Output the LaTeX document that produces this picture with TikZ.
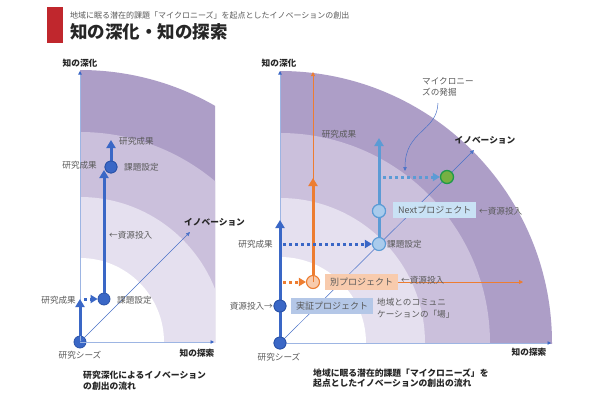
\documentclass[tikz,border=0pt]{standalone}
\usepackage{fontspec}
\setmainfont{Noto Sans CJK JP}
\usetikzlibrary{arrows.meta}
\definecolor{ringA}{HTML}{AD9EC7}
\definecolor{ringB}{HTML}{CBC0DC}
\definecolor{ringC}{HTML}{E5E0EF}
\definecolor{bdark}{HTML}{3A67C6}
\definecolor{bdarkline}{HTML}{2A52A8}
\definecolor{lbline}{HTML}{5B9BD5}
\definecolor{lbfill}{HTML}{A9CBEC}
\definecolor{orng}{HTML}{ED7D31}
\definecolor{ofill}{HTML}{F8CBAD}
\definecolor{nextfill}{HTML}{C9E2F5}
\definecolor{jfill}{HTML}{B4C7E7}
\definecolor{gfill}{HTML}{76B043}
\definecolor{gline}{HTML}{1E9A4A}
\definecolor{txtgray}{HTML}{595959}
\definecolor{txtdark}{HTML}{262626}
\definecolor{axisb}{HTML}{9DB5E3}
\definecolor{diagb}{HTML}{4A72C8}
\definecolor{titlered}{HTML}{C0272D}
\begin{document}
\begin{tikzpicture}[x=1pt,y=-1pt,
  font=\fontsize{8.6}{10}\selectfont,
  lbl/.style={inner sep=0pt, text=txtgray},
  dlbl/.style={inner sep=0pt, text=txtdark, font=\fontsize{8.7}{10}\selectfont\bfseries},
  dcirc/.style={circle, fill=bdark, draw=bdarkline, line width=0.8pt, minimum size=12pt, inner sep=0pt},
  lcirc/.style={circle, fill=lbfill, draw=lbline, line width=1.1pt, minimum size=13pt, inner sep=0pt},
  ocirc/.style={circle, fill=ofill, draw=orng, line width=1.1pt, minimum size=13pt, inner sep=0pt},
  gcirc/.style={circle, fill=gfill, draw=gline, line width=1.3pt, minimum size=13pt, inner sep=0pt},
  thickb/.style={line width=3pt, draw=bdark, -{Triangle[length=8pt,width=9pt]}},
  thickl/.style={line width=3pt, draw=lbline, -{Triangle[length=8pt,width=9pt]}},
  thicko/.style={line width=3pt, draw=orng, -{Triangle[length=8pt,width=9pt]}},
  thino/.style={line width=0.8pt, draw=orng, -{Triangle[length=4pt,width=4pt]}},
  dotb/.style={line width=3pt, draw=bdark, dash pattern=on 3pt off 3pt, -{Triangle[length=7pt,width=8pt]}},
  dotl/.style={line width=3pt, draw=lbline, dash pattern=on 3pt off 3pt, -{Triangle[length=7pt,width=8pt]}},
  doto/.style={line width=3pt, draw=orng, dash pattern=on 3pt off 3pt, -{Triangle[length=7pt,width=8pt]}},
  axisln/.style={draw=axisb, line width=0.8pt, -{Triangle[length=3.5pt,width=3.5pt,color=bdark]}},
  diag/.style={draw=diagb, line width=0.5pt, -{Triangle[length=4pt,width=3.5pt]}},
  callout/.style={draw=diagb, line width=0.5pt, -{Triangle[length=4pt,width=3.5pt]}},
  boxn/.style={inner xsep=5pt, minimum height=16pt, text=txtgray, font=\fontsize{9}{10}\selectfont}
]
\useasboundingbox (0,0) rectangle (600,400);
\fill[white] (0,0) rectangle (600,400);

% ---------- title ----------
\fill[titlered] (47,7) rectangle (63,43);
\node[anchor=west, inner sep=0pt, text=txtgray, font=\fontsize{8}{9}\selectfont] (sub) at (70,15)
  {地域に眠る潜在的課題「マイクロニーズ」を起点としたイノベーションの創出};
\node[anchor=west, inner sep=0pt, text=txtdark, font=\fontsize{17.5}{19}\selectfont\bfseries] (ttl) at (70,32)
  {知の深化・知の探索};

% ---------- left rings ----------
\begin{scope}
\clip (80,0) rectangle (215,342);
\fill[ringA] (80,342) circle[radius=272pt];
\fill[ringB] (80,342) circle[radius=210pt];
\fill[ringC] (80,342) circle[radius=145pt];
\fill[white] (80,342) circle[radius=84pt];
\end{scope}

% ---------- right rings ----------
\begin{scope}
\clip (280,0) rectangle (600,343);
\fill[ringA] (280,343) circle[radius=272pt];
\fill[ringB] (280,343) circle[radius=210pt];
\fill[ringC] (280,343) circle[radius=145pt];
\fill[white] (280,343) circle[radius=86pt];
\end{scope}

% ---------- left diagram ----------
\coordinate (lyTop) at (80,71);
\coordinate (lxEnd) at (214,342);
\coordinate (ldEnd) at (190,232);
\coordinate (lt1) at (80,299);
\coordinate (ld1) at (84,299);
\coordinate (lt2) at (104,170);
\coordinate (lt3) at (111,140);
\node[dcirc] (o1) at (80,342) {};
\draw[axisln] (o1.center) -- (lyTop);
\draw[axisln] (o1.center) -- (lxEnd);
\draw[diag] (o1.center) -- (ldEnd);
\node[dcirc] (c1) at (104,299) {};
\node[dcirc] (c2) at (111,167) {};
\draw[thickb] (o1) -- (lt1);
\draw[dotb] (ld1) -- (c1);
\draw[thickb] (c1) -- (lt2);
\draw[thickb] (c2) -- (lt3);
\node[dcirc] at (111,167) {};

\node[dlbl] (lAx1) at (80,63) {知の深化};
\node[dlbl] (lAx2) at (197,353) {知の探索};
\node[lbl] (lSeeds) at (80,355) {研究シーズ};
\node[lbl, anchor=east] (lR1) at (76,300) {研究成果};
\node[lbl, anchor=west] (lK1) at (117,300) {課題設定};
\node[lbl, anchor=west] (lS1) at (109,235) {←資源投入};
\node[lbl, anchor=east] (lR2) at (97,165) {研究成果};
\node[lbl, anchor=west] (lK2) at (124,167) {課題設定};
\node[lbl, anchor=west] (lR3) at (119,141) {研究成果};
\node[dlbl, anchor=west] (lInno) at (184,222) {イノベーション};
\node[dlbl, anchor=north west, align=left, font=\fontsize{8.8}{10.5}\selectfont\bfseries] (lCap) at (83,371)
  {研究深化によるイノベーション\\の創出の流れ};

% ---------- right diagram ----------
\coordinate (ryTop) at (280,71);
\coordinate (rxEnd) at (551,343);
\coordinate (rdEnd) at (474,150);
\coordinate (rt1) at (280,220);
\coordinate (rd1) at (283,244);
\coordinate (rt2) at (379,138);
\coordinate (rd2) at (383,177);
\coordinate (rd3) at (283,282);
\coordinate (rt3) at (313,178);
\coordinate (rt4) at (313,72);
\coordinate (rt5) at (523,282);
\coordinate (cS) at (438,103);
\coordinate (cE) at (405,171);

\node[dcirc] (o2) at (280,343) {};
\draw[axisln] (o2.center) -- (ryTop);
\draw[axisln] (o2.center) -- (rxEnd);
\draw[diag] (o2.center) -- (rdEnd);

% orange
\node[ocirc] (c6) at (313,282) {};
\draw[thino] (c6.center) -- (rt4);
\draw[thicko] (c6) -- (rt3);
\draw[doto] (rd3) -- (c6);
\node[boxn, fill=ofill, anchor=west] (bBetsu) at (325,282) {別プロジェクト};
\draw[thino] (bBetsu.east) -- (rt5);
\node[lbl, anchor=west] (rS2) at (401,280) {←資源投入};

% blue main
\node[dcirc] (c3) at (280,306) {};
\draw[thickb] (o2) -- (rt1);
\node[dcirc] at (280,306) {};
\node[dcirc] at (280,343) {};
\node[lbl, anchor=east] (rS1) at (273,306) {資源投入→};
\node[boxn, fill=jfill, anchor=west] (bJissho) at (291,306) {実証プロジェクト};
\node[lbl, anchor=west, align=left, font=\fontsize{8.6}{12}\selectfont] (rComm) at (377,308)
  {地域とのコミュニ\\ケーションの「場」};

% light blue
\node[lcirc] (c4) at (379,244) {};
\node[lcirc] (c5) at (379,211) {};
\draw[thickl] (c4) -- (rt2);
\node[lcirc] at (379,211) {};
\draw[dotb] (rd1) -- (c4);
\node[lbl, anchor=west] (rK1) at (387,244) {課題設定};
\node[lbl, anchor=east] (rR1) at (273,244) {研究成果};
\node[boxn, fill=nextfill, anchor=west] (bNext) at (393,210) {Nextプロジェクト};
\node[lbl, anchor=west] (rS3) at (479,211) {←資源投入};

\node[gcirc] (g) at (447,177) {};
\draw[dotl] (rd2) -- (g);
\draw[callout] (cS) .. controls (437,132) and (405,130) .. (cE);

\node[lbl] (rR2) at (339,134) {研究成果};
\node[dlbl] (rInno) at (485,140) {イノベーション};
\node[lbl, anchor=north west, align=left, font=\fontsize{8.6}{11.5}\selectfont] (rMicro) at (422,77)
  {マイクロニー\\ズの発掘};
\node[dlbl] (rAx1) at (279,63) {知の深化};
\node[dlbl] (rAx2) at (529,352) {知の探索};
\node[lbl] (rSeeds) at (279,357) {研究シーズ};
\node[dlbl, anchor=north west, align=left, font=\fontsize{8.8}{10}\selectfont\bfseries] (rCap) at (313,369)
  {地域に眠る潜在的課題「マイクロニーズ」を\\起点としたイノベーションの創出の流れ};
\end{tikzpicture}
\end{document}
